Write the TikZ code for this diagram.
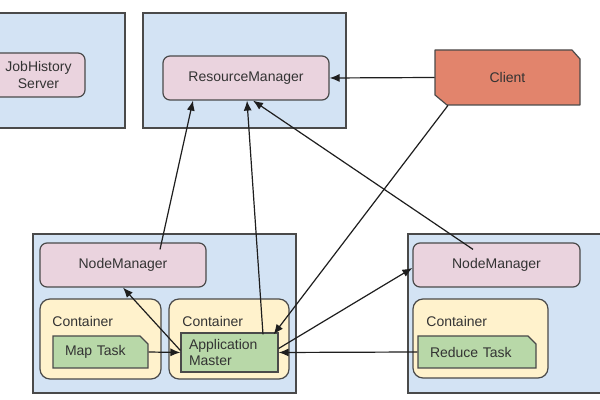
\documentclass[tikz,border=0pt]{standalone}
\usepackage{fontspec}
\setmainfont{Liberation Sans}
\usetikzlibrary{arrows.meta,shapes.misc}
\definecolor{bluebg}{HTML}{D3E3F4}
\definecolor{pinkc}{HTML}{EAD3DE}
\definecolor{yellowc}{HTML}{FFF2CC}
\definecolor{greenc}{HTML}{B8D8A8}
\definecolor{clientc}{HTML}{E2846C}
\definecolor{linec}{HTML}{4A4A4A}
\definecolor{textc}{HTML}{333333}
\definecolor{arrowc}{HTML}{1E1E1E}
\begin{document}
\begin{tikzpicture}[x=0.5pt,y=-0.5pt,
  font=\fontsize{7pt}{8.2pt}\selectfont,
  pxsize/.style 2 args={minimum width=#1*0.5pt, minimum height=#2*0.5pt},
  group/.style={draw=linec, fill=bluebg, line width=0.6pt, inner sep=0pt},
  service/.style={draw=linec, fill=pinkc, rounded corners=3.5pt, line width=0.6pt, text=textc, align=center, inner sep=0pt},
  contbox/.style={draw=linec, fill=yellowc, rounded corners=5pt, line width=0.6pt, inner sep=0pt},
  conttext/.style={anchor=west, text=textc, inner sep=0pt},
  task/.style={chamfered rectangle, chamfered rectangle corners=north east, chamfered rectangle xsep=2pt, chamfered rectangle ysep=2pt, draw=linec, fill=greenc, line width=0.6pt, text=textc, align=left, inner xsep=4pt, inner ysep=0pt},
  clientshape/.style={draw=linec, fill=clientc, line width=0.6pt, line join=round},
  arr/.style={draw=arrowc, line width=0.6pt, -{Latex[length=5pt,width=4pt]}}
]
\clip (0,0) rectangle (600,400);
\fill[white] (0,0) rectangle (600,400);
% groups
\node[group, pxsize={145}{115}] (g1) at (52.5,70.5) {};
\node[group, pxsize={203}{115}] (g2) at (244.5,70.5) {};
\node[group, pxsize={263}{159}] (g3) at (164.5,313.5) {};
\node[group, pxsize={212}{159}] (g4) at (514,313.5) {};
% containers
\node[contbox, pxsize={121}{80}] (c1) at (100.5,339) {};
\node[contbox, pxsize={120}{80}] (c2) at (229,339) {};
\node[contbox, pxsize={135}{79}] (c3) at (480.5,338.5) {};
\node[conttext] (c1t) at (52,321) {Container};
\node[conttext] (c2t) at (182,321) {Container};
\node[conttext] (c3t) at (426,321) {Container};
% services
\node[service, pxsize={93}{44}] (jhs) at (38.5,75) {JobHistory\\Server};
\node[service, pxsize={166}{44}] (rm) at (246,78) {ResourceManager};
\node[service, pxsize={166}{44}] (nm1) at (123,265) {NodeManager};
\node[service, pxsize={167}{44}] (nm2) at (496.5,265) {NodeManager};
% client (clipped corners)
\path[clientshape] (435,50) -- (572,50) -- (580,59) -- (580,105) -- (447,105) -- (435,95) -- cycle;
\node[text=textc, inner sep=0pt, pxsize={145}{55}] (client) at (507.5,77.5) {Client};
% tasks
\node[task, pxsize={87}{32}, text width=35.5pt] (mt) at (100.5,352) {Map Task};
\node[task, pxsize={110}{32}, text width=47pt] (rt) at (477,352) {Reduce Task};
\node[draw=linec, fill=greenc, line width=0.6pt, text=textc, align=left, inner xsep=4pt, inner ysep=0pt, pxsize={97}{39}, text width=40.5pt] (am) at (229.5,352.5) {Application\\Master};
% arrows
\draw[arr] (client.west) -- (rm.east);
\draw[arr] ([xshift=18.5pt,yshift=-3.5pt]nm1.north) -- ([xshift=-26.5pt]rm.south);
\draw[arr] ([xshift=16.75pt,yshift=-1pt]am.north) -- ([xshift=0.5pt]rm.south);
\draw[arr] ([xshift=-11.75pt,yshift=-3.5pt]nm2.north) -- ([xshift=3.5pt]rm.south);
\draw[arr] ([xshift=-29.75pt]client.south) -- ([xshift=-2.5pt,yshift=-1pt]am.north east);
\draw[arr] ([yshift=2pt]am.east) -- ([yshift=-1.5pt]nm2.west);
\draw[arr] (rt.west) -- (am.east);
\draw[arr] (mt.east) -- (am.west);
\draw[arr] ([yshift=1pt]am.west) -- (nm1.south);
\end{tikzpicture}
\end{document}
